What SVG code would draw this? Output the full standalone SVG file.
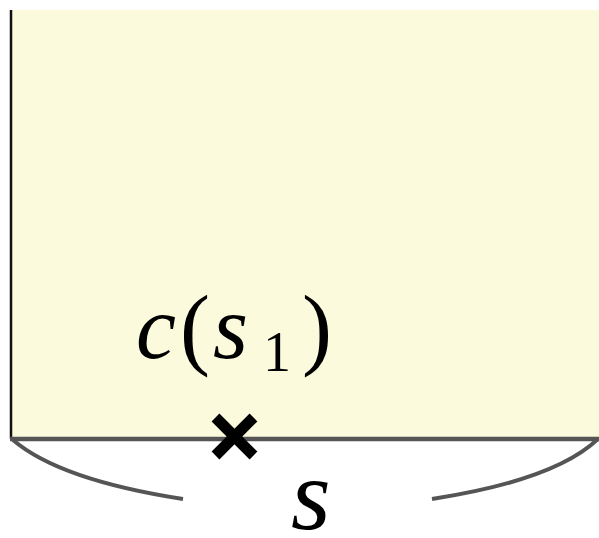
<svg xmlns="http://www.w3.org/2000/svg" width="599" height="538" viewBox="0 0 599 538">
<style>
text{font-family:'Liberation Serif','Times New Roman',serif;fill:#000}
.i{font-style:italic}
.brace{fill:none;stroke:#555;stroke-width:4;stroke-linecap:butt}
</style>
<g id="region">
<rect x="11" y="10" width="588" height="428" fill="#fcfadc"/>
<line x1="11" y1="10" x2="11" y2="439" stroke="#111" stroke-width="2.5"/>
<line x1="10" y1="439" x2="599" y2="439" stroke="#555" stroke-width="4.5"/>
</g>
<g id="marker">
<line x1="215.5" y1="417.5" x2="253.5" y2="455.5" stroke="#000" stroke-width="11"/>
<line x1="253.5" y1="417.5" x2="215.5" y2="455.5" stroke="#000" stroke-width="11"/>
</g>
<g id="connectors">
<path class="brace" d="M13,440 Q60,480 183,499"/>
<path class="brace" d="M432,499 Q555,480 598,439"/>
</g>
<g id="labels">
<text font-size="90" y="358"><tspan class="i" x="136">c</tspan><tspan x="180">(</tspan><tspan class="i" x="213">s</tspan></text>
<text font-size="56" x="263" y="371">1</text>
<text font-size="90" x="302" y="358">)</text>
<text class="i" font-size="102" x="291" y="529">s</text>
</g>
</svg>
